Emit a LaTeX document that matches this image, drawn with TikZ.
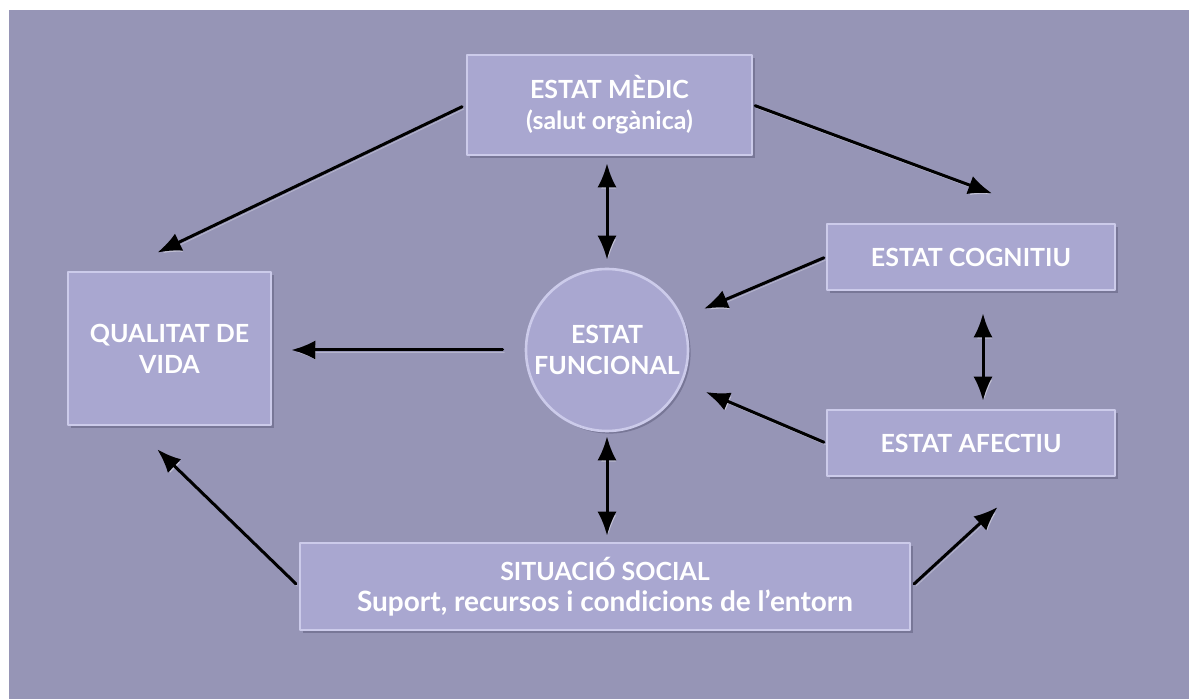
\documentclass[tikz,border=0pt]{standalone}
\usepackage{fontspec}
\setmainfont{Lato}
\usetikzlibrary{arrows.meta,shadows,positioning}
\definecolor{fons}{RGB}{150,149,182}
\definecolor{caixafons}{RGB}{169,167,208}
\definecolor{vora}{RGB}{204,203,234}
\definecolor{ombra}{RGB}{96,95,126}
\begin{document}
\begin{tikzpicture}[x=0.5pt,y=-0.5pt,line cap=round,line join=round,>={Latex[length=12pt,width=9.5pt]},
  caixa/.style={rectangle,fill=caixafons,draw=vora,line width=1.3pt,text=white,align=center,
    font=\bfseries\fontsize{12.5}{15.5}\selectfont,
    drop shadow={shadow xshift=1.3pt,shadow yshift=-1.3pt,opacity=.55,fill=ombra}},
  fletxa/.style={line width=1.5pt,black,->,
    preaction={draw=white,opacity=.3,transform canvas={xshift=.8pt,yshift=-1.2pt}}},
  dobla/.style={fletxa,<->}]
\useasboundingbox (0,0) rectangle (1189,699);
\fill[white] (0,0) rectangle (1189,699);
\fill[fons] (9,10) rectangle (1189,699);

% caixes
\node[caixa,minimum width=142.5pt,minimum height=50pt] (medic) at (609.5,105) {ESTAT MÈDIC\\(salut orgànica)};
\node[caixa,minimum width=144pt,minimum height=33pt] (cognitiu) at (971,257) {ESTAT COGNITIU};
\node[caixa,minimum width=144pt,minimum height=33pt] (afectiu) at (971,443) {ESTAT AFECTIU};
\node[caixa,minimum width=101.5pt,minimum height=76.5pt] (qualitat) at (169.5,348.5) {QUALITAT DE\\VIDA};
\node[caixa,circle,minimum size=81pt,inner sep=0pt] (funcional) at (607,350) {ESTAT\\FUNCIONAL};
\node[caixa,minimum width=305pt,minimum height=43.5pt] (social) at (605,586.5)
  {SITUACIÓ SOCIAL\\{\fontsize{14}{15.5}\selectfont Suport, recursos i condicions de l’entorn}};

% fletxes
\draw[fletxa,shorten <=2pt,shorten >=21pt] (medic.west) -- ([xshift=-25pt]qualitat.north);
\draw[fletxa,shorten <=1pt,shorten >=42pt] (medic.east) -- ([xshift=50pt]cognitiu.north);
\draw[dobla,shorten <=3.5pt,shorten >=4pt] (funcional.north |- medic.south) -- (funcional.north);
\draw[fletxa,shorten <=1pt,shorten >=11.5pt] (cognitiu.west) -- (funcional);
\draw[fletxa,shorten <=1pt,shorten >=12.5pt] (afectiu.west) -- (funcional);
\draw[dobla,shorten <=11pt,shorten >=4pt] ([xshift=6pt]cognitiu.south) -- ([xshift=6pt]afectiu.north);
\draw[fletxa,shorten <=11pt,shorten >=9.5pt] (funcional.west) -- (funcional.west -| qualitat.east);
\draw[dobla,shorten <=2pt,shorten >=3pt] (funcional.south) -- (funcional.south |- social.north);
\draw[fletxa,shorten <=2pt,shorten >=16.5pt] (social.west) -- ([xshift=-18pt]qualitat.south);
\draw[fletxa,shorten <=2pt,shorten >=22pt] (social.east) -- ([xshift=29.5pt]afectiu.south);
\end{tikzpicture}
\end{document}
